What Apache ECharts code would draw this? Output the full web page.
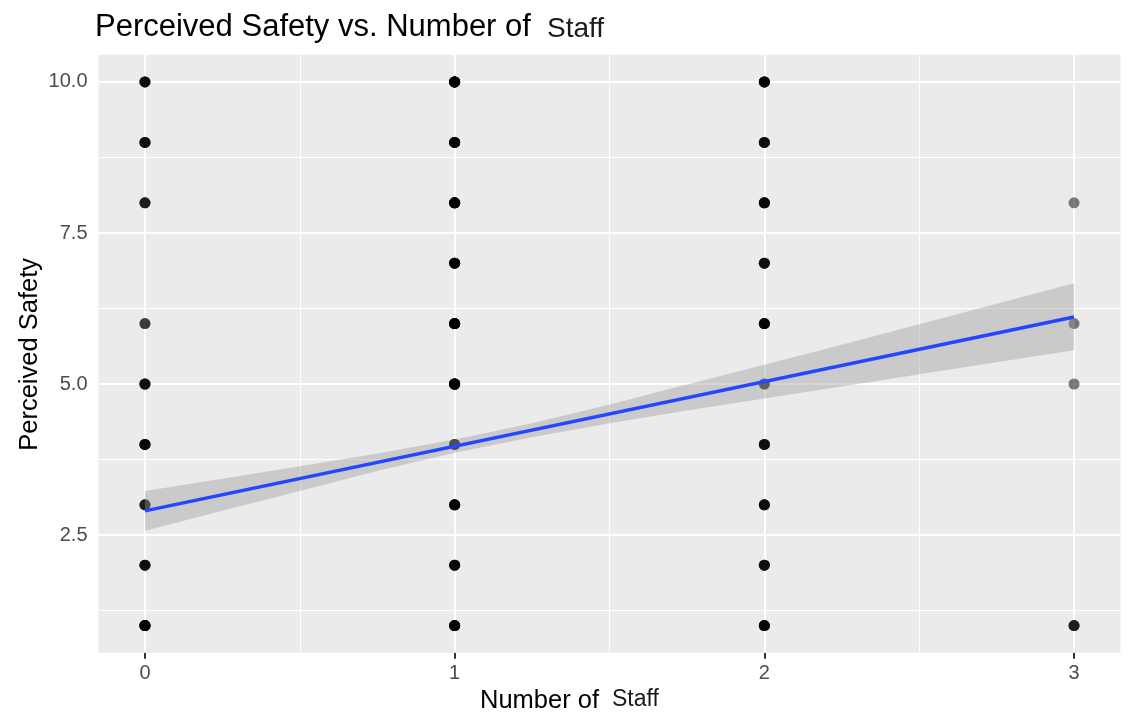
<!DOCTYPE html>
<html>
<head>
<meta charset="utf-8">
<script src="https://cdn.jsdelivr.net/npm/echarts@6/dist/echarts.min.js"></script>
<style>
  html, body { margin: 0; padding: 0; background: #ffffff; }
  #chart { width: 1133px; height: 726px; }
</style>
</head>
<body>
<div id="chart"></div>
<script>
// Survey responses: number of staff present vs. perceived safety (one entry per response)
const obsStaff = [
  0,0,0,0, 0,0,0,0, 0,0,0, 0,0, 0,0,0,0, 0,0,0,0,0, 0,0,0, 0,0,0,0, 0,0,0,0,0,0,0,0,
  1,1,1,1,1,1,1,1,1,1, 1,1,1,1,1,1, 1,1,1,1,1,1,1,1, 1,1,1,1,1,1, 1,1,1,1,1,1,1,1, 1,1,1,1,1,1,1,1,1,1, 1,1,1, 1,1,1,1,1,1, 1,1,1,1,1, 1,1,1,1,1,1,
  2,2,2,2,2,2, 2,2,2,2, 2,2,2,2,2, 2,2,2,2, 2,2,2,2,2, 2,2, 2,2,2,2, 2,2,2,2, 2,2,2,2, 2,2,2,2,2,
  3, 3, 3, 3,3,3
];
const obsSafety = [
  10,10,10,10, 9,9,9,9, 8,8,8, 6,6, 5,5,5,5, 4,4,4,4,4, 3,3,3, 2,2,2,2, 1,1,1,1,1,1,1,1,
  10,10,10,10,10,10,10,10,10,10, 9,9,9,9,9,9, 8,8,8,8,8,8,8,8, 7,7,7,7,7,7, 6,6,6,6,6,6,6,6, 5,5,5,5,5,5,5,5,5,5, 4,4,4, 3,3,3,3,3,3, 2,2,2,2,2, 1,1,1,1,1,1,
  10,10,10,10,10,10, 9,9,9,9, 8,8,8,8,8, 7,7,7,7, 6,6,6,6,6, 5,5, 4,4,4,4, 3,3,3,3, 2,2,2,2, 1,1,1,1,1,
  8, 6, 5, 1,1,1
];

// Linear fit and its 95% confidence band
const fitStaff = [0, 3];
const fitSafety = [2.90, 6.11];
const bandStaff = [0, 0.25, 0.5, 0.75, 1, 1.25, 1.5, 1.75, 2, 2.25, 2.5, 2.75, 3];
const bandLower = [2.57, 2.90, 3.23, 3.56, 3.86, 4.12, 4.35, 4.56, 4.76, 4.96, 5.16, 5.36, 5.56];
const bandUpper = [3.23, 3.43, 3.64, 3.85, 4.08, 4.35, 4.66, 4.99, 5.32, 5.65, 5.99, 6.33, 6.67];

// Axis breaks
const xBreaks = [0, 1, 2, 3];
const xMinorBreaks = [0.5, 1.5, 2.5];
const yBreaks = [2.5, 5, 7.5, 10];
const yMinorBreaks = [1.25, 3.75, 6.25, 8.75];

const FONT = '"Liberation Sans", Arial, Helvetica, sans-serif';

const points = obsStaff.map((s, i) => [s, obsSafety[i]]);
const fitData = fitStaff.map((s, i) => [s, fitSafety[i]]);

const gridLines = []
  .concat(xMinorBreaks.map(v => ({ xAxis: v, lineStyle: { width: 1 } })))
  .concat(yMinorBreaks.map(v => ({ yAxis: v, lineStyle: { width: 1 } })))
  .concat(xBreaks.map(v => ({ xAxis: v, lineStyle: { width: 2 } })))
  .concat(yBreaks.map(v => ({ yAxis: v, lineStyle: { width: 2 } })));

const chart = echarts.init(document.getElementById('chart'), null, { renderer: 'canvas' });

chart.setOption({
  animation: false,
  backgroundColor: '#ffffff',
  textStyle: { fontFamily: FONT },
  grid: {
    left: 98.5, right: 12.5, top: 54.8, bottom: 73.2,
    show: true, backgroundColor: '#EBEBEB', borderWidth: 0
  },
  xAxis: {
    type: 'value',
    min: -0.15, max: 3.15,
    axisLine: { show: false },
    splitLine: { show: false },
    axisTick: { show: true, length: 6, customValues: xBreaks, lineStyle: { color: '#333333', width: 2 } },
    axisLabel: { customValues: xBreaks, color: '#4D4D4D', fontSize: 20, margin: 11, fontFamily: FONT }
  },
  yAxis: {
    type: 'value',
    min: 0.55, max: 10.45,
    axisLine: { show: false },
    splitLine: { show: false },
    axisTick: { show: true, length: 6, customValues: yBreaks, lineStyle: { color: '#333333', width: 2 } },
    axisLabel: {
      customValues: yBreaks, color: '#4D4D4D', fontSize: 20, margin: 11, fontFamily: FONT,
      formatter: v => v.toFixed(1)
    }
  },
  graphic: [
    {
      type: 'text', left: 95, top: 12,
      style: { text: 'Perceived Safety vs. Number of', font: '31px ' + FONT, fill: '#000000' }
    },
    {
      type: 'text', left: 547, top: 15,
      style: { text: 'Staff', font: '28px ' + FONT, fill: '#1a1a1a' }
    },
    {
      type: 'text', left: 480, top: 688,
      style: { text: 'Number of', font: '25.5px ' + FONT, fill: '#000000' }
    },
    {
      type: 'text', left: 612, top: 688,
      style: { text: 'Staff', font: '23px ' + FONT, fill: '#1a1a1a' }
    },
    {
      type: 'text', left: 17, top: 258, rotation: Math.PI / 2,
      style: { text: 'Perceived Safety', font: '25.5px ' + FONT, fill: '#000000' }
    }
  ],
  series: [
    {
      // panel grid lines
      type: 'line', data: [], z: 1, silent: true,
      markLine: {
        z: 1, silent: true, symbol: ['none', 'none'], label: { show: false },
        lineStyle: { color: '#ffffff', type: 'solid' },
        animation: false,
        data: gridLines
      }
    },
    {
      type: 'scatter', data: points, z: 10, symbol: 'circle', symbolSize: 11,
      itemStyle: { color: '#000000', opacity: 0.5 }, silent: true
    },
    {
      type: 'custom', z: 11, silent: true,
      data: [0],
      renderItem: (params, api) => {
        const pts = [];
        bandStaff.forEach((s, i) => pts.push(api.coord([s, bandUpper[i]])));
        for (let i = bandStaff.length - 1; i >= 0; i--) pts.push(api.coord([bandStaff[i], bandLower[i]]));
        return { type: 'polygon', shape: { points: pts, smooth: 0 }, style: { fill: 'rgba(153,153,153,0.4)' } };
      }
    },
    {
      type: 'line', data: fitData, z: 12, symbol: 'none', silent: true,
      lineStyle: { color: '#2446FF', width: 3.5 }
    }
  ]
});
</script>
</body>
</html>
